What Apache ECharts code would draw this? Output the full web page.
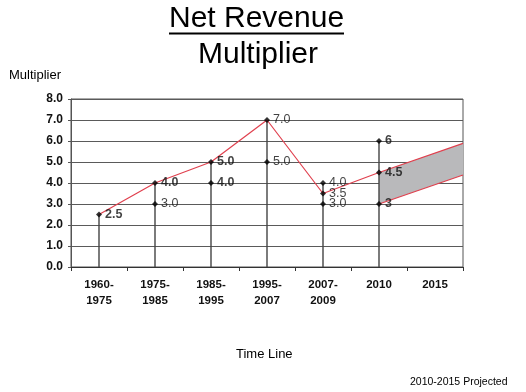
<!DOCTYPE html>
<html><head><meta charset="utf-8">
<script src="https://cdn.jsdelivr.net/npm/echarts@6/dist/echarts.min.js"></script>
<style>html,body{margin:0;padding:0;background:#fff}#c{width:526px;height:392px}</style>
</head><body><div id="c"></div>
<script>
var categories = ['1960-\n1975','1975-\n1985','1985-\n1995','1995-\n2007','2007-\n2009','2010','2015'];
var yTicks = [0,1,2,3,4,5,6,7,8];
// trend line (x in category index units; last point at right plot edge)
var trendX = [0,1,2,3,4,5,6.5];
var trendY = [2.5,4.0,5.0,7.0,3.5,4.5,5.89];
// lower projection line
var lowX = [5,6.5];
var lowY = [3.0,4.38];
// vertical stems
var stemX = [0,1,2,3,4,5];
var stemTop = [2.5,4.0,5.0,7.0,4.0,6.0];
// labelled points
var pointX = [0,1,1,2,2,3,3,4,4,4,5,5,5];
var pointY = [2.5,4.0,3.0,5.0,4.0,7.0,5.0,4.0,3.5,3.0,6,4.5,3];
var pointLabels = ['2.5','4.0','3.0','5.0','4.0','7.0','5.0','4.0','3.5','3.0','6','4.5','3'];

var boldIdx = {0:true,1:true,3:true,4:true,10:true,11:true,12:true};
var FONT = 'Liberation Sans, Arial, sans-serif';

var chart = echarts.init(document.getElementById('c'), null, {renderer:'canvas'});

var bandUpper = [[trendX[5],trendY[5]],[trendX[6],trendY[6]]];
var bandLower = [[lowX[0],lowY[0]],[lowX[1],lowY[1]]];

var option = {
  animation:false,
  backgroundColor:'#fff',
  grid:{left:71,right:63,top:99,bottom:125,show:true,borderColor:'#555',borderWidth:1},
  xAxis:[{
    type:'category',data:categories,boundaryGap:true,
    axisLine:{show:true,lineStyle:{color:'#333',width:1}},
    axisTick:{show:true,length:4,lineStyle:{color:'#333'}},
    axisLabel:{color:'#111',fontWeight:'bold',fontSize:11.5,fontFamily:FONT,margin:10,lineHeight:16}
  },{
    type:'value',min:-0.5,max:6.5,show:false
  }],
  yAxis:{
    type:'value',min:0,max:8,interval:1,
    axisLine:{show:true,onZero:false,lineStyle:{color:'#555'}},
    axisTick:{show:true,length:3,lineStyle:{color:'#555'}},
    axisLabel:{color:'#111',fontWeight:'bold',fontSize:12,fontFamily:FONT,margin:8,
      formatter:function(v){return v.toFixed(1);}},
    splitLine:{show:true,lineStyle:{color:'#5a5a5a',width:1}}
  },
  series:[
    {
      type:'custom',xAxisIndex:1,z:1,
      data:[0],
      renderItem:function(params,api){
        var pts=[];
        bandUpper.forEach(function(p){pts.push(api.coord(p));});
        bandLower.slice().reverse().forEach(function(p){pts.push(api.coord(p));});
        return {type:'polygon',shape:{points:pts},style:{fill:'#b9b9bb',stroke:null}};
      }
    },
    {
      type:'custom',xAxisIndex:1,z:2,
      data:stemX.map(function(x,i){return [x,stemTop[i]];}),
      renderItem:function(params,api){
        var a=api.coord([api.value(0),0]);
        var b=api.coord([api.value(0),api.value(1)]);
        return {type:'line',shape:{x1:a[0],y1:a[1],x2:b[0],y2:b[1]},style:{stroke:'#444',lineWidth:1.4}};
      }
    },
    {
      type:'line',xAxisIndex:1,z:3,symbol:'none',
      data:trendX.map(function(x,i){return [x,trendY[i]];}),
      lineStyle:{color:'#e0404e',width:1.2}
    },
    {
      type:'line',xAxisIndex:1,z:3,symbol:'none',
      data:lowX.map(function(x,i){return [x,lowY[i]];}),
      lineStyle:{color:'#e0404e',width:1.2}
    },
    {
      type:'scatter',xAxisIndex:1,z:4,symbol:'diamond',symbolSize:6,
      itemStyle:{color:'#000'},
      data:pointX.map(function(x,i){
        return {value:[x,pointY[i]],label:{fontWeight:boldIdx[i]?'bold':'normal'}};
      }),
      label:{show:true,position:'right',distance:3,color:'#111',fontSize:12.5,fontFamily:FONT,
        formatter:function(p){return pointLabels[p.dataIndex];}}
    }
  ],
  graphic:[
    {type:'text',left:169,top:4,style:{text:'Net Revenue',font:'30px '+FONT,fill:'#000'}},
    {type:'line',shape:{x1:169,y1:33.5,x2:344,y2:33.5},style:{stroke:'#000',lineWidth:2}},
    {type:'text',left:198,top:40,style:{text:'Multiplier',font:'30px '+FONT,fill:'#000'}},
    {type:'text',left:9,top:69,style:{text:'Multiplier',font:'13px '+FONT,fill:'#000'}},
    {type:'text',left:236,top:348,style:{text:'Time Line',font:'13px '+FONT,fill:'#000'}},
    {type:'text',left:410,top:377,style:{text:'2010-2015 Projected',font:'10.5px '+FONT,fill:'#000'}}
  ]
};
chart.setOption(option);
</script></body></html>
